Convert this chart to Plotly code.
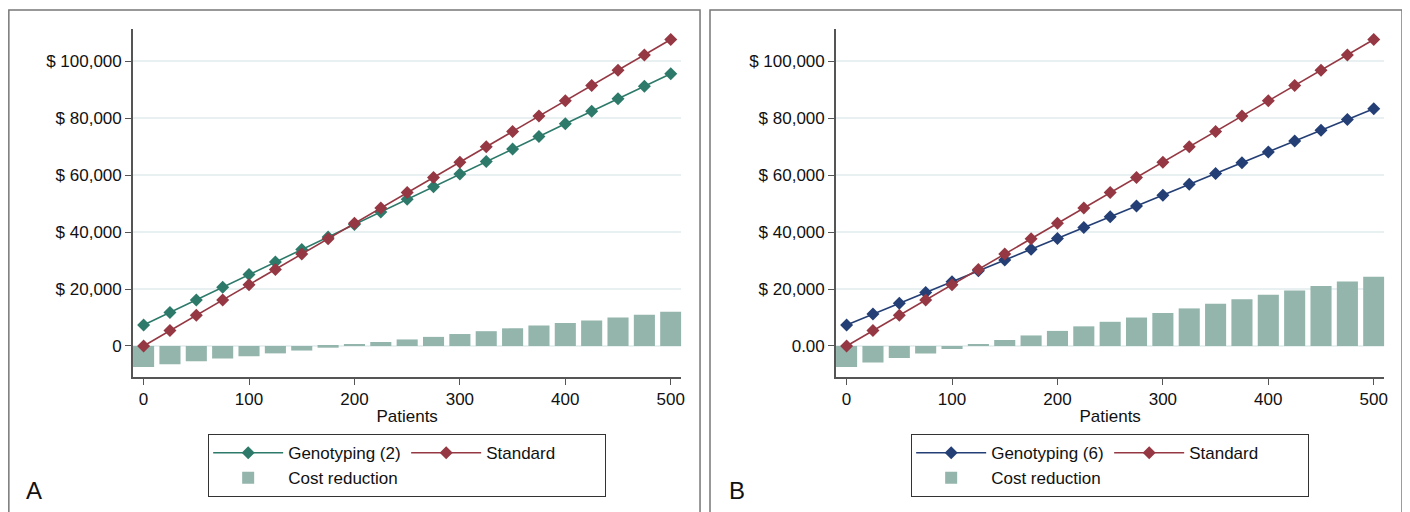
import plotly.graph_objects as go

W, H = 1410, 512
OFF = 8  # page body margin in the browser

patients = [0, 25, 50, 75, 100, 125, 150, 175, 200, 225, 250, 275, 300, 325, 350, 375, 400, 425, 450, 475, 500]

standard = [0, 5400, 10800, 16200, 21500, 26900, 32300, 37700, 43100, 48500, 53900,
            59200, 64600, 70000, 75400, 80800, 86200, 91500, 96900, 102300, 107700]

genotyping_2 = [7400, 11800, 16200, 20600, 25100, 29500, 33900, 38300, 42700, 47100, 51600,
                56000, 60400, 64800, 69200, 73600, 78100, 82500, 86900, 91300, 95700]

genotyping_6 = [7400, 11200, 15000, 18800, 22600, 26400, 30200, 34000, 37800, 41600, 45400,
                49200, 53000, 56800, 60600, 64400, 68200, 72000, 75800, 79600, 83400]

cost_reduction_a = [-7400, -6400, -5400, -4400, -3600, -2600, -1600, -600, 400, 1400, 2300,
                    3200, 4200, 5200, 6200, 7200, 8100, 9000, 10000, 11000, 12000]

cost_reduction_b = [-7400, -5800, -4200, -2600, -1100, 500, 2100, 3700, 5300, 6900, 8500,
                    10000, 11600, 13200, 14800, 16400, 18000, 19500, 21100, 22700, 24300]

y_tickvals = [0, 20000, 40000, 60000, 80000, 100000]
y_ticktext_a = ["0", "$ 20,000", "$ 40,000", "$ 60,000", "$ 80,000", "$ 100,000"]
y_ticktext_b = ["0.00", "$ 20,000", "$ 40,000", "$ 60,000", "$ 80,000", "$ 100,000"]
x_tickvals = [0, 100, 200, 300, 400, 500]

TEAL = "#2d7a6a"
RED = "#953843"
NAVY = "#243f75"
BAR = "#93b5ac"
FONT = "Liberation Sans, Arial, Helvetica, sans-serif"

fig = go.Figure()

def add_panel(geno, geno_name, geno_color, cost, xa, ya, leg):
    fig.add_trace(go.Scatter(
        x=patients, y=geno, name=geno_name, mode="lines+markers",
        line=dict(color=geno_color, width=1.6),
        marker=dict(symbol="diamond", size=10, color=geno_color),
        xaxis=xa, yaxis=ya, legend=leg, legendgroup=leg + "g1"))
    fig.add_trace(go.Scatter(
        x=patients, y=standard, name="Standard", mode="lines+markers",
        line=dict(color=RED, width=1.6),
        marker=dict(symbol="diamond", size=10, color=RED),
        xaxis=xa, yaxis=ya, legend=leg, legendgroup=leg + "g2"))
    fig.add_trace(go.Bar(
        x=patients, y=cost, name="Cost reduction", width=20,
        marker=dict(color=BAR, line=dict(width=0)),
        xaxis=xa, yaxis=ya, legend=leg, legendgroup=leg + "g1"))

add_panel(genotyping_2, "Genotyping (2)", TEAL, cost_reduction_a, "x", "y", "legend")
add_panel(genotyping_6, "Genotyping (6)", NAVY, cost_reduction_b, "x2", "y2", "legend2")

def px_x(p):
    return (p - OFF) / W

def px_y(p):
    return 1 - (p - OFF) / H

dom_y = [px_y(377), px_y(29)]
xdomA = [px_x(133.3), px_x(683.3)]
xdomB = [px_x(838.3), px_x(1388.3)]

axis_common = dict(
    showline=True, linecolor="#555555", linewidth=1.5,
    ticks="outside", ticklen=6, tickcolor="#555555", tickwidth=1.2,
    tickfont=dict(size=17, color="#111111", family=FONT),
    zeroline=False,
)

xcommon = dict(axis_common, range=[-10.1, 510.1], tickvals=x_tickvals, showgrid=False,
               title=dict(text="Patients", font=dict(size=17, color="#111111", family=FONT), standoff=2))
ycommon = dict(axis_common, range=[-10900, 111400], tickvals=y_tickvals,
               showgrid=True, gridcolor="#e8f0f1", gridwidth=1.5)

legend_common = dict(orientation="h", xanchor="center", y=px_y(434), yanchor="top",
                     bordercolor="#333333", borderwidth=1.2, bgcolor="white",
                     font=dict(size=17, family=FONT), itemwidth=70, entrywidth=113,
                     traceorder="grouped", tracegroupgap=0)

fig.update_layout(
    width=W, height=H,
    margin=dict(l=0, r=0, t=0, b=0),
    paper_bgcolor="white", plot_bgcolor="white",
    font=dict(family=FONT, size=17, color="#111111"),
    barmode="overlay",
    xaxis=dict(xcommon, domain=xdomA, anchor="y"),
    yaxis=dict(ycommon, domain=dom_y, anchor="x", ticktext=y_ticktext_a),
    xaxis2=dict(xcommon, domain=xdomB, anchor="y2"),
    yaxis2=dict(ycommon, domain=dom_y, anchor="x2", ticktext=y_ticktext_b),
    legend=dict(legend_common, x=(xdomA[0] + xdomA[1]) / 2),
    legend2=dict(legend_common, x=(xdomB[0] + xdomB[1]) / 2),
    showlegend=True,
)

# panel frames
fig.add_shape(type="rect", xref="paper", yref="paper",
              x0=0.0006, x1=px_x(702), y0=-0.05, y1=px_y(10),
              line=dict(color="#777777", width=1.5), layer="below")
fig.add_shape(type="rect", xref="paper", yref="paper",
              x0=px_x(712), x1=px_x(1406), y0=-0.05, y1=px_y(10),
              line=dict(color="#777777", width=1.5), layer="below")

fig.add_annotation(text="A", xref="paper", yref="paper", x=px_x(24), y=px_y(490),
                   xanchor="left", yanchor="middle", showarrow=False,
                   font=dict(size=24, family=FONT, color="#111111"))
fig.add_annotation(text="B", xref="paper", yref="paper", x=px_x(729), y=px_y(490),
                   xanchor="left", yanchor="middle", showarrow=False,
                   font=dict(size=24, family=FONT, color="#111111"))

fig.write_html("out.html")
